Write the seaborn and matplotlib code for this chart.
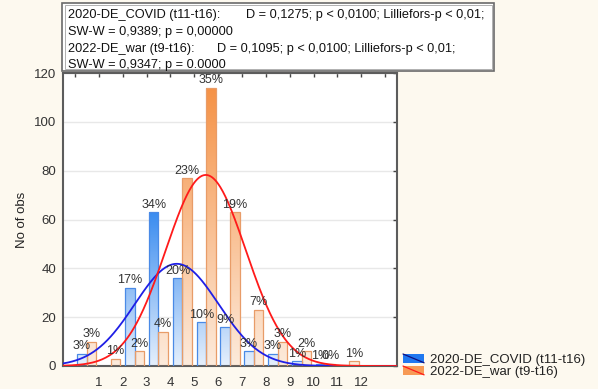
import numpy as np
import pandas as pd
import matplotlib
matplotlib.use("Agg")
import matplotlib.pyplot as plt
from matplotlib.patches import Rectangle, Patch
from matplotlib.lines import Line2D
from matplotlib.legend_handler import HandlerBase
from matplotlib.colors import LinearSegmentedColormap
import seaborn as sns

# Frequency table: bins 0..12, number of observations per bin
bins = np.arange(13)
covid_counts = [5, 0, 32, 63, 36, 18, 16, 6, 5, 2, 1, 0, 0]
war_counts = [10, 3, 6, 14, 77, 114, 63, 23, 10, 6, 1, 2, 0]
series_names = ["2020-DE_COVID (t11-t16)", "2022-DE_war (t9-t16)"]
x_tick_labels = [str(i) for i in range(1, 13)]
y_ticks = [0, 20, 40, 60, 80, 100, 120]
stats_lines = [
    ("2020-DE_COVID (t11-t16):", "D = 0,1275; p < 0,0100; Lilliefors-p < 0,01;"),
    ("SW-W = 0,9389; p = 0,00000", ""),
    ("2022-DE_war (t9-t16):", "D = 0,1095; p < 0,0100; Lilliefors-p < 0,01;"),
    ("SW-W = 0,9347; p = 0.0000", ""),
]

sns.set_theme(style="white")
plt.rcParams["font.family"] = ["Liberation Sans", "DejaVu Sans"]

W, H = 598, 389
BG = "#fdf9ef"
fig = plt.figure(figsize=(W / 100, H / 100), dpi=100, facecolor=BG)
ax = fig.add_axes([63 / W, 1 - 366 / H, (397 - 63) / W, (366 - 73) / H])
ax.set_facecolor("white")
ax.set_axisbelow(True)

centers = bins + 0.5
df = pd.DataFrame({
    "value": np.concatenate([centers, centers]),
    "count": covid_counts + war_counts,
    "series": np.repeat(series_names, len(bins)),
})
sns.barplot(data=df, x="value", y="count", hue="series", native_scale=True,
            width=0.8, dodge=True, palette=["#3a8cf0", "#f5914a"],
            saturation=1, legend=False, ax=ax)

# vertical gradient fill for each bar, darkest at the tallest bar of the series
styles = [("#e6f0fc", "#3a8cf0", "#4a8ae6"), ("#fdebdc", "#f59246", "#e89c68")]
grad = np.linspace(0, 1, 256).reshape(-1, 1)
for container, (light, dark, edge) in zip(ax.containers, styles):
    cmap = LinearSegmentedColormap.from_list("fill", [light, dark])
    top = max(bar.get_height() for bar in container)
    for bar in container:
        if bar.get_height() <= 0:
            bar.set_visible(False)
            continue
        bar.set_facecolor("none")
        bar.set_edgecolor(edge)
        bar.set_linewidth(0.9)
        bar.set_zorder(3)
        x0, w = bar.get_x(), bar.get_width()
        im = ax.imshow(grad, cmap=cmap, origin="lower", aspect="auto",
                       extent=(x0, x0 + w, 0, top), zorder=2.5,
                       interpolation="bilinear")
        im.set_clip_path(bar)

# percentage labels above the bars
for container, counts in zip(ax.containers, [covid_counts, war_counts]):
    total = sum(counts)
    for bar, c in zip(container, counts):
        if c == 0:
            continue
        ax.annotate(f"{100 * c / total:.0f}%",
                    (bar.get_x() + bar.get_width() / 2, c),
                    xytext=(0, 1), textcoords="offset points",
                    ha="center", va="bottom", fontsize=9, color="#333333",
                    zorder=5)

# fitted normal curves
xs = np.linspace(-0.5, 13.5, 400)
for counts, color in [(covid_counts, "#1f1fe6"), (war_counts, "#ff1a1a")]:
    vals = np.repeat(centers, counts)
    mu, sd = vals.mean(), vals.std(ddof=1)
    ys = len(vals) * np.exp(-0.5 * ((xs - mu) / sd) ** 2) / (sd * np.sqrt(2 * np.pi))
    sns.lineplot(x=xs, y=ys, color=color, lw=1.3, ax=ax, zorder=4)

ax.set_xlim(-0.5, 13.5)
ax.set_ylim(0, 120)
ax.set_xticks(range(0, 14))
ax.set_xticklabels([""] + x_tick_labels + [""])
ax.set_yticks(y_ticks)
ax.set_xlabel("")
ax.set_ylabel("No of obs", fontsize=9.5, color="#222222")
ax.yaxis.set_label_coords((28 - 63) / 334, 0.5)
ax.tick_params(axis="x", direction="in", top=True, length=3, width=1,
               color="#444444", labelsize=9.5, labelcolor="#333333", pad=8)
ax.tick_params(axis="y", direction="in", right=True, length=3, width=1,
               color="#444444", labelsize=9.5, labelcolor="#333333", pad=5)
ax.yaxis.grid(True, color="#e8e8e8", lw=1)
ax.xaxis.grid(False)
for s in ax.spines.values():
    s.set_color("#5c5c5c")
    s.set_linewidth(1.5)

# statistics box above the plot
fig.patches.append(Rectangle((62 / W, 1 - 71 / H), (494 - 62) / W, (71 - 3) / H,
                             transform=fig.transFigure, facecolor="white",
                             edgecolor="#6a6a6a", lw=1.2, zorder=1))
fig.patches.append(Rectangle((64.5 / W, 1 - 68.5 / H), (491.5 - 64.5) / W, (68.5 - 5.5) / H,
                             transform=fig.transFigure, facecolor="none",
                             edgecolor="#b0b0b0", lw=0.7, zorder=1))
for (head, tail), yc in zip(stats_lines, [15, 32, 49, 65]):
    fig.text(68 / W, 1 - yc / H, head, fontsize=9.2, color="#111111",
             ha="left", va="center")
    if tail:
        x_tail = 246 if head.startswith("2020") else 217
        fig.text(x_tail / W, 1 - yc / H, tail, fontsize=9.2, color="#111111",
                 ha="left", va="center")


class FitPatchHandler(HandlerBase):
    def __init__(self, face, line):
        super().__init__()
        self.face, self.line = face, line

    def create_artists(self, legend, orig_handle, xdescent, ydescent,
                       width, height, fontsize, trans):
        x0, y0 = -xdescent, -ydescent
        r = Rectangle((x0, y0), width, height, facecolor=self.face,
                      edgecolor="none", transform=trans)
        ln = Line2D([x0, x0 + width], [y0 + height, y0], color=self.line,
                    lw=0.9, transform=trans)
        return [r, ln]


h1, h2 = Patch(), Patch()
fig.legend([h1, h2], series_names,
           handler_map={h1: FitPatchHandler("#1f78f0", "#101080"),
                        h2: FitPatchHandler("#f79a55", "#ff1a1a")},
           loc="upper left", bbox_to_anchor=(403 / W, 1 - 354 / H),
           frameon=False, fontsize=9.5, labelspacing=0.0, borderpad=0,
           handlelength=1.6, handleheight=0.65, handletextpad=0.45,
           borderaxespad=0, labelcolor="#222222")

fig.savefig("out.png", dpi=100, facecolor=BG)
